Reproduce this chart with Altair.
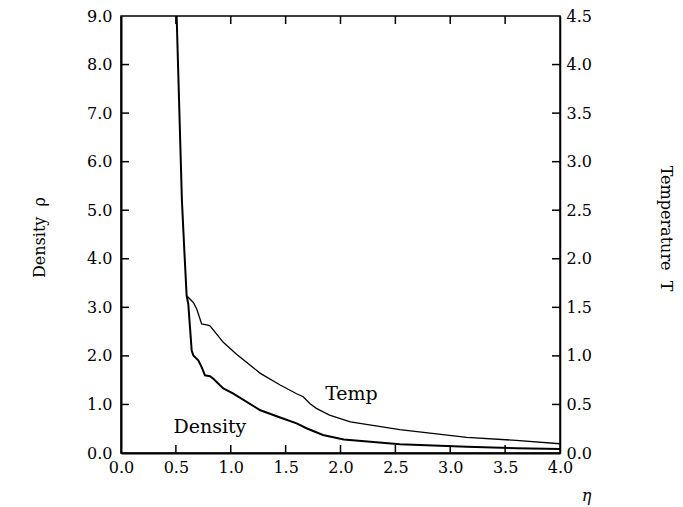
import altair as alt
import pandas as pd

# ---- data ----
dens_eta = [0.500, 0.507, 0.555, 0.577, 0.598, 0.613, 0.644, 0.659, 0.704, 0.735, 0.765,
            0.811, 0.841, 0.932, 1.02, 1.27, 1.45, 1.60, 1.69, 1.84, 2.03, 2.54, 3.15, 3.6, 4.0]
dens_rho = [9.6, 9.0, 5.2, 4.17, 3.24, 3.07, 2.11, 2.01, 1.91, 1.77, 1.60,
            1.58, 1.53, 1.33, 1.23, 0.88, 0.73, 0.61, 0.51, 0.37, 0.28, 0.18, 0.13, 0.10, 0.08]

temp_eta = [0.598, 0.659, 0.689, 0.735, 0.78, 0.811, 0.932, 1.05, 1.27, 1.45, 1.60, 1.66,
            1.72, 1.78, 1.90, 2.09, 2.54, 3.15, 3.6, 4.0]
temp_T = [1.62, 1.55, 1.485, 1.33, 1.32, 1.31, 1.14, 1.02, 0.82, 0.70, 0.61, 0.58,
          0.51, 0.46, 0.39, 0.32, 0.24, 0.16, 0.13, 0.095]

x_labels = [0.0, 0.5, 1.0, 1.5, 2.0, 2.5, 3.0, 3.5, 4.0]
x_ticks = [0.5, 1.0, 1.5, 2.0, 2.5, 3.0, 3.5]
rho_labels = [0.0, 1.0, 2.0, 3.0, 4.0, 5.0, 6.0, 7.0, 8.0, 9.0]
rho_ticks = [1.0, 2.0, 3.0, 4.0, 5.0, 6.0, 7.0, 8.0]
T_labels = [0.0, 0.5, 1.0, 1.5, 2.0, 2.5, 3.0, 3.5, 4.0, 4.5]
T_ticks = [0.5, 1.0, 1.5, 2.0, 2.5, 3.0, 3.5, 4.0]

curve_names = ["Density", "Temp"]
curve_label_eta = [0.81, 2.10]
curve_label_rho = [0.53, 1.21]

# ---- layout ----
W, H = 439, 437
FONT = "DejaVu Serif"
TICK = 8
LBL = 16

df_d = pd.DataFrame({"eta": dens_eta, "rho": dens_rho})
df_t = pd.DataFrame({"eta": temp_eta, "T": temp_T})
df_xt = pd.DataFrame({"eta": x_ticks})
df_rt = pd.DataFrame({"rho": rho_ticks})
df_tt = pd.DataFrame({"T": T_ticks})
df_lab = pd.DataFrame({"name": curve_names, "eta": curve_label_eta, "rho": curve_label_rho})

xscale = alt.Scale(domain=[0, 4], nice=False, zero=False)
rscale = alt.Scale(domain=[0, 9], nice=False)
tscale = alt.Scale(domain=[0, 4.5], nice=False)

x_axis = alt.Axis(values=x_labels, format=".1f", tickSize=0, labelPadding=6,
                  labelFlush=False,
                  domainWidth=2, domainColor="black", grid=False,
                  labelFont=FONT, labelFontSize=LBL, labelColor="black",
                  title="η", titleFont=FONT, titleFontSize=16, titleFontStyle="italic",
                  titleFontWeight="normal", titleColor="black",
                  titleX=W + 26, titleY=42, titleAlign="center", titleBaseline="middle")

left_axis = alt.Axis(orient="left", values=rho_labels, format=".1f", tickSize=0, labelPadding=9,
                     domainWidth=2, domainColor="black", grid=False,
                     labelFont=FONT, labelFontSize=LBL, labelColor="black",
                     title="Density\u00a0\u00a0ρ", titleFont=FONT, titleFontSize=16,
                     titleFontWeight="normal", titleColor="black",
                     titleAngle=270, titleX=-82, titleY=221, titleAlign="center",
                     titleBaseline="middle")

right_axis = alt.Axis(orient="right", values=T_labels, format=".1f", tickSize=0,
                      labelPadding=6, domainWidth=1.5, domainColor="black", grid=False,
                      labelFont=FONT, labelFontSize=LBL, labelColor="black",
                      title="Temperature\u00a0\u00a0T", titleFont=FONT, titleFontSize=16,
                      titleFontWeight="normal", titleColor="black",
                      titleAngle=90, titleX=105, titleY=212, titleAlign="center",
                      titleBaseline="middle")

dens = alt.Chart(df_d).mark_line(color="black", strokeWidth=2, clip=True).encode(
    x=alt.X("eta:Q", scale=xscale, axis=x_axis),
    y=alt.Y("rho:Q", scale=rscale, axis=left_axis),
)

temp = alt.Chart(df_t).mark_line(color="black", strokeWidth=1.3, clip=True).encode(
    x=alt.X("eta:Q", scale=xscale),
    y=alt.Y("T:Q", scale=tscale, axis=right_axis),
)

lticks = alt.Chart(df_rt).mark_rule(color="black", strokeWidth=1.5).encode(
    y=alt.Y("rho:Q", scale=rscale, axis=None),
    x=alt.value(0), x2=alt.value(TICK),
)

rticks = alt.Chart(df_tt).mark_rule(color="black", strokeWidth=1.5).encode(
    y=alt.Y("T:Q", scale=tscale, axis=None),
    x=alt.value(W - TICK), x2=alt.value(W),
)

bticks = alt.Chart(df_xt).mark_rule(color="black", strokeWidth=1.5).encode(
    x=alt.X("eta:Q", scale=xscale),
    y=alt.value(H), y2=alt.value(H - TICK),
)

tticks = alt.Chart(df_xt).mark_rule(color="black", strokeWidth=1.5).encode(
    x=alt.X("eta:Q", scale=xscale),
    y=alt.value(0), y2=alt.value(TICK),
)

labels = alt.Chart(df_lab).mark_text(font=FONT, fontSize=19, color="black",
                                     align="center", baseline="middle").encode(
    x=alt.X("eta:Q", scale=xscale),
    y=alt.Y("rho:Q", scale=rscale, axis=None),
    text="name:N",
)

chart = alt.layer(dens, temp, lticks, rticks, bticks, tticks, labels).resolve_scale(
    y="independent"
).properties(
    width=W, height=H,
    autosize=alt.AutoSizeParams(type="none"),
    padding={"left": 113, "top": 8, "right": 115, "bottom": 53},
    background="white",
).configure_view(stroke="black", strokeWidth=1.5)

chart.save("out.html", embed_options={"renderer": "svg", "actions": False})
